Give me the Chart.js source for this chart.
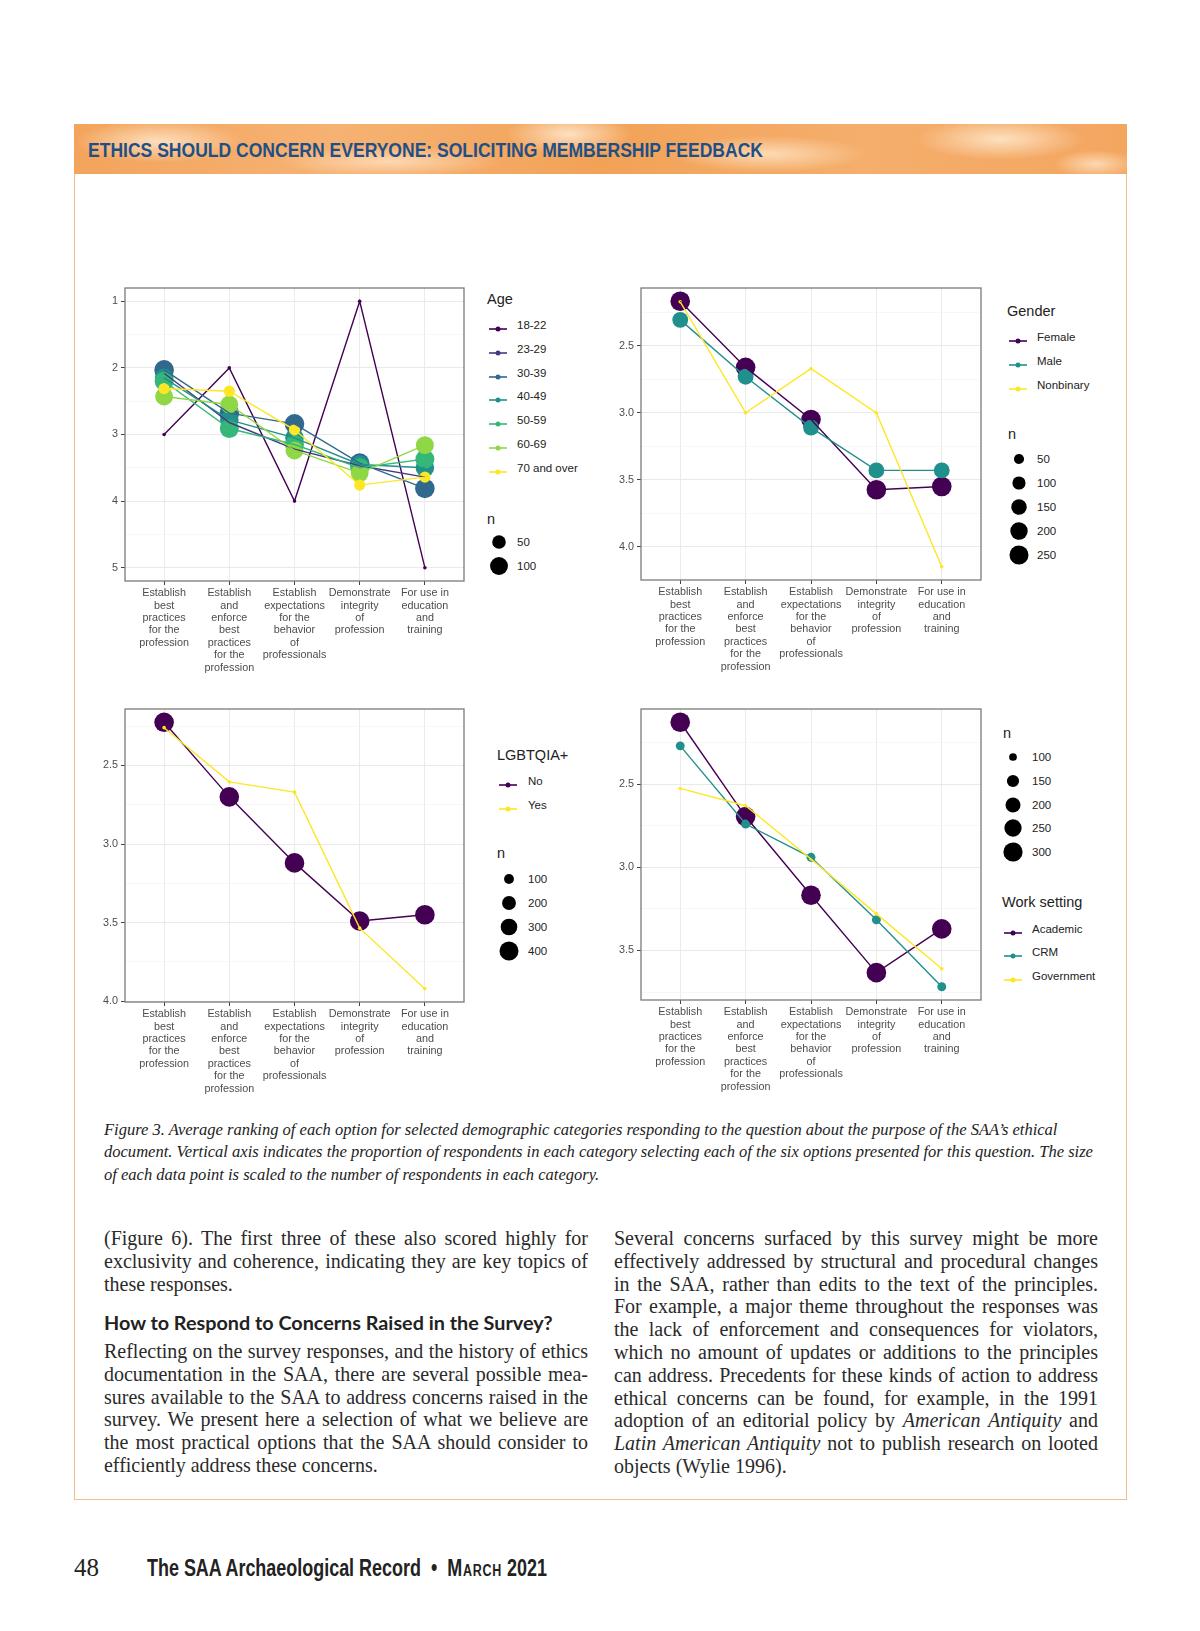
<!DOCTYPE html>
<html>
<head>
<meta charset="utf-8">
<script src="https://cdn.jsdelivr.net/npm/chart.js@4.4.0/dist/chart.umd.min.js"></script>
<style>
  body { margin: 0; background: #fff; width: 1200px; height: 1631px; position: relative; overflow: hidden;
         font-family: 'Liberation Sans', Arial, sans-serif; color: #222; }
  .abs { position: absolute; }
  #frame { left: 74px; top: 124px; width: 1053px; height: 1376px; border: 1.5px solid #f1bf8a; box-sizing: border-box; }
  #banner { left: 74px; top: 124px; width: 1053px; height: 50px;
    background:
      radial-gradient(ellipse 120px 30px at 8% 35%, rgba(255,232,205,.85), transparent 70%),
      radial-gradient(ellipse 160px 22px at 30% 75%, rgba(255,226,195,.8), transparent 70%),
      radial-gradient(ellipse 90px 30px at 47% 20%, rgba(255,236,212,.85), transparent 70%),
      radial-gradient(ellipse 140px 26px at 66% 60%, rgba(255,230,200,.8), transparent 70%),
      radial-gradient(ellipse 120px 30px at 88% 30%, rgba(255,234,208,.85), transparent 70%),
      radial-gradient(ellipse 60px 20px at 97% 80%, rgba(255,228,198,.8), transparent 70%),
      linear-gradient(90deg, #f3a45c, #f6b273 25%, #f2a257 50%, #f5ae6c 75%, #f3a660); }
  #bannerText { left: 88px; top: 137px; font-family: 'Liberation Sans Narrow', 'Liberation Sans', sans-serif;
    font-weight: bold; font-size: 21px; color: #1f4f86; white-space: nowrap; transform-origin: 0 50%; line-height: 26px; }
  .panel { position: absolute; }
  .lg-title { position: absolute; font-size: 14.5px; line-height: 18px; color: #222; white-space: nowrap; }
  .lg-text { position: absolute; font-size: 11.5px; line-height: 16px; color: #222; white-space: nowrap; }
  .caption { position: absolute; left: 104px; width: 995px; font-family: 'Liberation Serif', serif; font-style: italic;
    font-size: 15.5px; line-height: 22.4px; color: #222; }
  .caption .line { height: 22.4px; white-space: nowrap; }
  .col .line { text-align: justify; text-align-last: justify; white-space: nowrap; }
  .col .line.last { text-align-last: left; }
  .col { position: absolute; width: 484px; font-family: 'Liberation Serif', serif; font-size: 18px; color: #2a2a2a; }
  .col .line { height: 22.8px; line-height: 22.8px; }
  #heading { left: 104px; top: 1310px; font-family: Lato, 'Open Sans', sans-serif; font-weight: 700; font-size: 19.8px;
    color: #222; white-space: nowrap; line-height: 24px; }
  #pageNo { left: 74px; top: 1552px; font-family: 'Liberation Serif', serif; font-size: 25px; line-height: 32px; color: #222; }
  #footer { left: 147px; top: 1554px; font-family: 'Liberation Sans Narrow', 'Liberation Sans', sans-serif; font-weight: bold;
    font-size: 23px; line-height: 28px; color: #222; white-space: nowrap; transform-origin: 0 50%; }
  .sc { font-variant: small-caps; letter-spacing: 1px; }
</style>
</head>
<body>
<div id="frame" class="abs"></div>
<div id="banner" class="abs"></div>
<div id="bannerText" class="abs">ETHICS SHOULD CONCERN EVERYONE: SOLICITING MEMBERSHIP FEEDBACK</div>

<div id="box1" class="panel"><canvas id="ageChart"></canvas></div>
<div id="box2" class="panel"><canvas id="genderChart"></canvas></div>
<div id="box3" class="panel"><canvas id="lgbtChart"></canvas></div>
<div id="box4" class="panel"><canvas id="workChart"></canvas></div>
<div id="legends"></div>

<div id="caption" class="caption" style="top:1119px">
  <div class="line">Figure 3. Average ranking of each option for selected demographic categories responding to the question about the purpose of the SAA’s ethical</div>
  <div class="line" id="capRef">document. Vertical axis indicates the proportion of respondents in each category selecting each of the six options presented for this question. The size</div>
  <div class="line">of each data point is scaled to the number of respondents in each category.</div>
</div>

<div class="col" style="left:104px; top:1227px">
  <div class="line">(Figure 6). The first three of these also scored highly for</div>
  <div class="line">exclusivity and coherence, indicating they are key topics of</div>
  <div class="line last">these responses.</div>
</div>
<div id="heading" class="abs">How to Respond to Concerns Raised in the Survey?</div>
<div class="col" style="left:104px; top:1340px">
  <div class="line">Reflecting on the survey responses, and the history of ethics</div>
  <div class="line">documentation in the SAA, there are several possible mea-</div>
  <div class="line">sures available to the SAA to address concerns raised in the</div>
  <div class="line">survey. We present here a selection of what we believe are</div>
  <div class="line">the most practical options that the SAA should consider to</div>
  <div class="line last">efficiently address these concerns.</div>
</div>
<div class="col" style="left:614px; top:1227px">
  <div class="line">Several concerns surfaced by this survey might be more</div>
  <div class="line">effectively addressed by structural and procedural changes</div>
  <div class="line">in the SAA, rather than edits to the text of the principles.</div>
  <div class="line">For example, a major theme throughout the responses was</div>
  <div class="line">the lack of enforcement and consequences for violators,</div>
  <div class="line">which no amount of updates or additions to the principles</div>
  <div class="line">can address. Precedents for these kinds of action to address</div>
  <div class="line">ethical concerns can be found, for example, in the 1991</div>
  <div class="line">adoption of an editorial policy by <i>American Antiquity</i> and</div>
  <div class="line"><i>Latin American Antiquity</i> not to publish research on looted</div>
  <div class="line last">objects (Wylie 1996).</div>
</div>

<div id="pageNo" class="abs">48</div>
<div id="footer" class="abs">The SAA Archaeological Record &nbsp;•&nbsp; <span class="sc">March</span> 2021</div>

<script>
// ---- data ----
const OPTIONS = [
  ['Establish', 'best', 'practices', 'for the', 'profession'],
  ['Establish', 'and', 'enforce', 'best', 'practices', 'for the', 'profession'],
  ['Establish', 'expectations', 'for the', 'behavior', 'of', 'professionals'],
  ['Demonstrate', 'integrity', 'of', 'profession'],
  ['For use in', 'education', 'and', 'training']
];

const AGE_GROUPS = ['18-22', '23-29', '30-39', '40-49', '50-59', '60-69', '70 and over'];
const AGE_N = [2, 15, 125, 110, 115, 100, 30];
const AGE_18_22 = [3, 2, 4, 1, 5];
const AGE_23_29 = [2.08, 2.82, 3.22, 3.47, 3.64];
const AGE_30_39 = [2.03, 2.68, 2.84, 3.43, 3.81];
const AGE_40_49 = [2.15, 2.78, 3.05, 3.45, 3.5];
const AGE_50_59 = [2.2, 2.91, 3.15, 3.5, 3.37];
const AGE_60_69 = [2.43, 2.55, 3.24, 3.58, 3.16];
const AGE_70_OVER = [2.31, 2.35, 2.93, 3.76, 3.64];
const AGE_N_BREAKS = [50, 100];

const GENDER_GROUPS = ['Female', 'Male', 'Nonbinary'];
const GENDER_N = [268, 160, 6];
const GENDER_FEMALE = [2.166, 2.66, 3.05, 3.575, 3.55];
const GENDER_MALE = [2.305, 2.73, 3.11, 3.43, 3.43];
const GENDER_NONBINARY = [2.17, 3.0, 2.67, 3.0, 4.15];
const GENDER_N_BREAKS = [50, 100, 150, 200, 250];

const LGBT_GROUPS = ['No', 'Yes'];
const LGBT_N = [430, 40];
const LGBT_NO = [2.226, 2.70, 3.12, 3.49, 3.45];
const LGBT_YES = [2.26, 2.605, 2.67, 3.535, 3.92];
const LGBT_N_BREAKS = [100, 200, 300, 400];

const WORK_GROUPS = ['Academic', 'CRM', 'Government'];
const WORK_N = [310, 110, 85];
const WORK_ACADEMIC = [2.128, 2.695, 3.168, 3.633, 3.37];
const WORK_CRM = [2.27, 2.74, 2.94, 3.315, 3.718];
const WORK_GOVERNMENT = [2.526, 2.63, 2.95, 3.28, 3.61];
const WORK_N_BREAKS = [100, 150, 200, 250, 300];

// viridis
const VIRIDIS7 = ['#440154', '#443A83', '#31688E', '#21908C', '#35B779', '#8FD744', '#FDE725'];
const VIRIDIS3 = ['#440154', '#21908C', '#FDE725'];
const VIRIDIS2 = ['#440154', '#FDE725'];

Chart.defaults.font.family = "'Liberation Sans', Arial, sans-serif";
Chart.defaults.animation = false;

const Y_AXIS_W = 40;
const X_AXIS_H = 100;

// point radius: area scale between smallest and largest n of the panel
function sizeScale(nList) {
  const lo = Math.min(...nList), hi = Math.max(...nList);
  return n => 1.8 + 8 * Math.sqrt(Math.max(0, Math.min(1, (n - lo) / (hi - lo))));
}

const panelBorder = {
  id: 'panelBorder',
  afterDraw(chart) {
    const a = chart.chartArea, c = chart.ctx;
    c.save();
    c.strokeStyle = '#7a7a7a';
    c.lineWidth = 1.3;
    c.strokeRect(a.left, a.top, a.right - a.left, a.bottom - a.top);
    c.restore();
  }
};

function placeBox(id, area) {
  const el = document.getElementById(id);
  el.style.left = (area.l - Y_AXIS_W) + 'px';
  el.style.top = (area.t - 2) + 'px';
  el.style.width = (area.r - area.l + Y_AXIS_W + 2) + 'px';
  el.style.height = (area.b - area.t + X_AXIS_H + 2) + 'px';
}

// keep the plot area exactly where the box says
function fixAxis(s, size) {
  if (s.isHorizontal()) s.height = size; else s.width = size;
  s.paddingTop = 0; s.paddingBottom = 0; s.paddingLeft = 0; s.paddingRight = 0;
}

function makePanel(canvasId, groups, series, nList, colors, step, decimals) {
  const radius = sizeScale(nList);
  const all = [].concat(...series);
  const lo = Math.min(...all), hi = Math.max(...all);
  const pad = (hi - lo) * 0.05;
  const yMin = lo - pad, yMax = hi + pad;
  const half = step / 2;
  const isMajor = v => Math.abs(v / step - Math.round(v / step)) < 1e-6;

  const datasets = [];
  groups.forEach((g, i) => {
    const pts = series[i].map((v, k) => ({ x: k + 1, y: v }));
    datasets.push({
      label: g + ' line', data: pts, borderColor: colors[i], borderWidth: 1.4,
      pointRadius: 0, fill: false, tension: 0, order: 50 - i
    });
    datasets.push({
      label: g, data: pts, showLine: false, backgroundColor: colors[i], borderColor: colors[i],
      pointRadius: radius(nList[i]), pointBorderWidth: 0, pointHoverRadius: radius(nList[i]), order: 100 - i
    });
  });

  return new Chart(document.getElementById(canvasId), {
    type: 'line',
    data: { datasets: datasets },
    plugins: [panelBorder],
    options: {
      responsive: true,
      maintainAspectRatio: false,
      layout: { autoPadding: false, padding: { top: 2, right: 2, left: 0, bottom: 0 } },
      plugins: { legend: { display: false }, tooltip: { enabled: false } },
      events: [],
      scales: {
        x: {
          type: 'linear', min: 0.4, max: 5.6,
          afterBuildTicks: s => { s.ticks = OPTIONS.map((o, k) => ({ value: k + 1 })); },
          afterFit: s => fixAxis(s, X_AXIS_H),
          ticks: {
            callback: v => OPTIONS[v - 1], autoSkip: false, maxRotation: 0, padding: 2,
            color: '#4d4d4d', font: { size: 10.8, lineHeight: 1.15 }
          },
          grid: { color: '#ebebeb', lineWidth: 1, tickLength: 4, tickColor: '#444' },
          border: { display: false }
        },
        y: {
          type: 'linear', reverse: true, min: yMin, max: yMax,
          afterBuildTicks: s => {
            const t = [];
            for (let v = Math.ceil(yMin / half) * half; v <= yMax + 1e-9; v += half) {
              t.push({ value: Math.round(v * 1000) / 1000 });
            }
            s.ticks = t;
          },
          afterFit: s => fixAxis(s, Y_AXIS_W),
          ticks: {
            callback: v => isMajor(v) ? v.toFixed(decimals) : '', autoSkip: false, padding: 3,
            color: '#4d4d4d', font: { size: 10.8 }
          },
          grid: {
            color: ctx => (ctx.tick && isMajor(ctx.tick.value)) ? '#e9e9e9' : '#f3f3f3',
            lineWidth: ctx => (ctx.tick && isMajor(ctx.tick.value)) ? 1 : 0.7,
            tickColor: ctx => (ctx.tick && isMajor(ctx.tick.value)) ? '#444' : 'rgba(0,0,0,0)',
            tickLength: 4
          },
          border: { display: false }
        }
      }
    }
  });
}

// ---- legends (html) ----
const legendsEl = document.getElementById('legends');
function put(cls, html, x, yc, h) {
  const d = document.createElement('div');
  d.className = cls;
  d.innerHTML = html;
  d.style.left = x + 'px';
  d.style.top = (yc - h / 2) + 'px';
  legendsEl.appendChild(d);
}
function svgAt(svg, cx, cy, w, h) {
  const d = document.createElement('div');
  d.style.position = 'absolute';
  d.style.left = (cx - w / 2) + 'px';
  d.style.top = (cy - h / 2) + 'px';
  d.innerHTML = svg;
  legendsEl.appendChild(d);
}
function groupLegend(title, groups, colors, lay) {
  put('lg-title', title, lay.x, lay.titleY, 18);
  groups.forEach((g, i) => {
    const y = lay.y0 + i * lay.dy;
    svgAt('<svg width="20" height="10"><line x1="1" y1="5" x2="19" y2="5" stroke="' + colors[i] +
      '" stroke-width="1.6"/><circle cx="10" cy="5" r="2.5" fill="' + colors[i] + '"/></svg>', lay.keyX, y, 20, 10);
    put('lg-text', g, lay.textX, y, 16);
  });
}
function sizeLegend(breaks, radius, lay) {
  put('lg-title', 'n', lay.x, lay.titleY, 18);
  breaks.forEach((b, i) => {
    const y = lay.y0 + i * lay.dy;
    const r = radius(b);
    svgAt('<svg width="22" height="22"><circle cx="11" cy="11" r="' + r + '" fill="#000"/></svg>', lay.keyX, y, 22, 22);
    put('lg-text', String(b), lay.textX, y, 16);
  });
}

// ---- build ----
placeBox('box1', { l: 125, t: 288, r: 464, b: 581 });
placeBox('box2', { l: 641, t: 288, r: 981, b: 580 });
placeBox('box3', { l: 125, t: 709, r: 464, b: 1002 });
placeBox('box4', { l: 641, t: 709, r: 981, b: 1000 });

makePanel('ageChart', AGE_GROUPS,
  [AGE_18_22, AGE_23_29, AGE_30_39, AGE_40_49, AGE_50_59, AGE_60_69, AGE_70_OVER],
  AGE_N, VIRIDIS7, 1, 0);
makePanel('genderChart', GENDER_GROUPS, [GENDER_FEMALE, GENDER_MALE, GENDER_NONBINARY],
  GENDER_N, VIRIDIS3, 0.5, 1);
makePanel('lgbtChart', LGBT_GROUPS, [LGBT_NO, LGBT_YES], LGBT_N, VIRIDIS2, 0.5, 1);
makePanel('workChart', WORK_GROUPS, [WORK_ACADEMIC, WORK_CRM, WORK_GOVERNMENT],
  WORK_N, VIRIDIS3, 0.5, 1);

groupLegend('Age', AGE_GROUPS, VIRIDIS7, { x: 487, titleY: 299, keyX: 498, textX: 517, y0: 325, dy: 23.8 });
sizeLegend(AGE_N_BREAKS, sizeScale(AGE_N), { x: 487, titleY: 519, keyX: 499, textX: 517, y0: 542, dy: 23.5 });

groupLegend('Gender', GENDER_GROUPS, VIRIDIS3, { x: 1007, titleY: 311, keyX: 1018, textX: 1037, y0: 336.5, dy: 24 });
sizeLegend(GENDER_N_BREAKS, sizeScale(GENDER_N), { x: 1008, titleY: 434, keyX: 1019, textX: 1037, y0: 459, dy: 24 });

groupLegend('LGBTQIA+', LGBT_GROUPS, VIRIDIS2, { x: 497, titleY: 755, keyX: 508, textX: 528, y0: 781, dy: 23.5 });
sizeLegend(LGBT_N_BREAKS, sizeScale(LGBT_N), { x: 497, titleY: 853, keyX: 509, textX: 528, y0: 879, dy: 24 });

sizeLegend(WORK_N_BREAKS, sizeScale(WORK_N), { x: 1003, titleY: 733, keyX: 1013, textX: 1032, y0: 757, dy: 23.8 });
groupLegend('Work setting', WORK_GROUPS, VIRIDIS3, { x: 1002, titleY: 902, keyX: 1013, textX: 1032, y0: 928.5, dy: 23.5 });

// ---- text fitting ----
function fitWidth(id, w) {
  const el = document.getElementById(id);
  el.style.transform = 'scaleX(' + (w / el.getBoundingClientRect().width) + ')';
}
fitWidth('bannerText', 675);
fitWidth('footer', 400);

function natWidth(lineEl) {
  const s = document.createElement('span');
  s.style.whiteSpace = 'nowrap';
  s.innerHTML = lineEl.innerHTML;
  lineEl.parentNode.appendChild(s);
  const w = s.getBoundingClientRect().width;
  s.remove();
  return w;
}
// body columns: largest font whose widest line still fits the column
document.querySelectorAll('.col').forEach(col => {
  const lines = Array.from(col.querySelectorAll('.line:not(.last)'));
  const base = parseFloat(getComputedStyle(col).fontSize);
  const maxW = Math.max(...lines.map(natWidth));
  col.style.fontSize = Math.min(20, base * 481 / maxW) + 'px';
});
// caption: ragged right, longest line reaches the right margin
(function () {
  const cap = document.getElementById('caption');
  const base = parseFloat(getComputedStyle(cap).fontSize);
  const w = natWidth(document.getElementById('capRef'));
  cap.style.fontSize = (base * 990 / w) + 'px';
})();
</script>
</body>
</html>
